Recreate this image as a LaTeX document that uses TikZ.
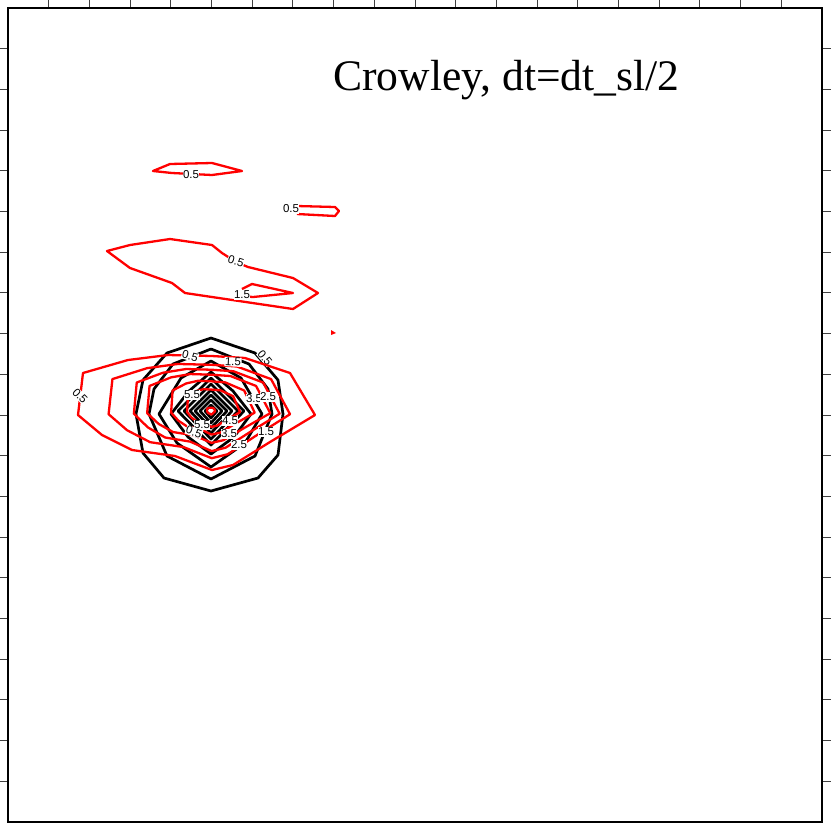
\documentclass[tikz,border=0pt]{standalone}
\usepackage{fontspec}
\setmainfont{Liberation Serif}
\newfontfamily\lblfont{Liberation Sans}
\newcommand\redring[4]{%
  \foreach \n/\dx/\dy in {1/-128/-38, 2/-83/-51, 3/-43/-56, 4/1/-55, 5/34/-53, 6/79/-38, 7/104/4, 8/59/31, 9/22/54, 10/1/59, 11/-36/45, 12/-79/39, 13/-109/24, 14/-133/4} {
    \pgfmathsetmacro\xx{211+ifthenelse(\dx<0,#1,#2)*(\dx)}
    \pgfmathsetmacro\yy{411+ifthenelse(\dy<0,#3,#4)*(\dy)}
    \coordinate (r\n) at (\xx,\yy);
  }
  \draw[rd] (r1)--(r2)--(r3)--(r4)--(r5)--(r6)--(r7)--(r8)--(r9)--(r10)--(r11)--(r12)--(r13)--(r14)--cycle;
}
\newcommand\bdiamond[1]{%
  \draw[blk,shift={(211,411)}] (0,-#1) -- (#1,0) -- (0,#1+1) -- (-#1,0) -- cycle;
}
\begin{document}
\begin{tikzpicture}[x=1pt,y=-1pt,
  blk/.style={line width=2.7pt, line join=round},
  rd/.style={red, line width=2.3pt, line join=round},
  lbl/.style={font=\lblfont\fontsize{11.5}{12}\selectfont, fill=white, inner sep=0.5pt},
  tickmark/.style={line width=0.9pt, black!75}]
\useasboundingbox (0,0) rectangle (831,823);
\fill[white] (0,0) rectangle (831,823);

% ticks and frame
\foreach \i in {1,...,19} {
  \draw[tickmark] ({8+\i*40.7},0) -- ({8+\i*40.7},8);
  \draw[tickmark] (0,{8+\i*40.7}) -- (8,{8+\i*40.7});
  \draw[tickmark] (822,{8+\i*40.7}) -- (831,{8+\i*40.7});
}
\draw[line width=2pt] (8,8) rectangle (822,822);

% title
\node[anchor=base west, inner sep=0pt, font=\fontsize{43.6}{50}\selectfont] (title) at (333,90) {Crowley, dt=dt\_sl/2};

% black contours
\draw[blk,shift={(211,411)}] (0,-73) -- (44,-58) -- (67,-31) -- (72,3) -- (67,44) -- (47,67) -- (0,80) -- (-47,67) -- (-68,42) -- (-75,3) -- (-68,-31) -- (-44,-58) -- cycle;
\draw[blk,shift={(211,411)}] (0,-62) -- (38,-47) -- (57,-22) -- (61,3) -- (44,45) -- (0,68) -- (-44,45) -- (-62,3) -- (-57,-22) -- (-38,-47) -- cycle;
\draw[blk,shift={(211,411)}] (0,-50) -- (30,-33) -- (51,3) -- (34,32) -- (0,56) -- (-34,32) -- (-52,3) -- (-30,-33) -- cycle;
\draw[blk,shift={(211,411)}] (0,-39) -- (22,-20) -- (40,3) -- (23,26) -- (0,43) -- (-23,26) -- (-40,3) -- (-22,-20) -- cycle;
\bdiamond{33}
\bdiamond{27}
\bdiamond{21}
\bdiamond{16}
\bdiamond{11}
\bdiamond{6}

% label partly covered by red lines
\node[lbl, rotate=-50] (l05c) at (265,358) {0.5};

% red contours, main blob
\redring{1}{1}{1}{1}
\redring{0.77}{0.76}{0.84}{0.80}
\redring{0.58}{0.66}{0.75}{0.68}
\redring{0.48}{0.57}{0.66}{0.54}
\redring{0.30}{0.42}{0.54}{0.40}
\redring{0.18}{0.28}{0.39}{0.27}
\redring{0.03}{0.04}{0.06}{0.06}

% red contours, upper
\draw[rd] (153,171) -- (170,164) -- (212,163) -- (242,171) -- (212,175) -- (172,173) -- cycle;
\draw[rd] (297,206) -- (335,207) -- (339,211) -- (335,216) -- (297,214);
\draw[rd] (107,251) -- (130,245) -- (170,239) -- (212,245) -- (222,253) -- (236,262) -- (248,267) -- (293,278) -- (318,293) -- (293,309) -- (185,293) -- (172,283) -- (130,268) -- cycle;
\draw[rd] (240,296) -- (253,297) -- (293,293) -- (252,284) -- (242,289);
\fill[red] (331,330) -- (336,333) -- (331,335) -- cycle;

% labels
\node[lbl] (u1) at (191,175) {0.5};
\node[lbl] (u2) at (291,209) {0.5};
\node[lbl, rotate=-18] (u3) at (236,261) {0.5};
\node[lbl] (u4) at (242,295) {1.5};
\node[lbl, rotate=-45] (l1) at (80,396) {0.5};
\node[lbl, rotate=-15] (l2) at (190,356) {0.5};
\node[lbl, rotate=-3] (l3) at (233,362) {1.5};
\node[lbl] (l4) at (192,395) {5.5};
\node[lbl] (l5) at (254,399) {3.5};
\node[lbl] (l6) at (268,397) {2.5};
\node[lbl] (l7) at (230,421) {4.5};
\node[lbl] (l8) at (229,434) {3.5};
\node[lbl] (l9) at (239,445) {2.5};
\node[lbl] (l10) at (266,432) {1.5};
\node[lbl] (l11) at (202,425) {5.5};
\node[lbl, rotate=-20] (l12) at (194,432) {0.5};
\end{tikzpicture}
\end{document}
